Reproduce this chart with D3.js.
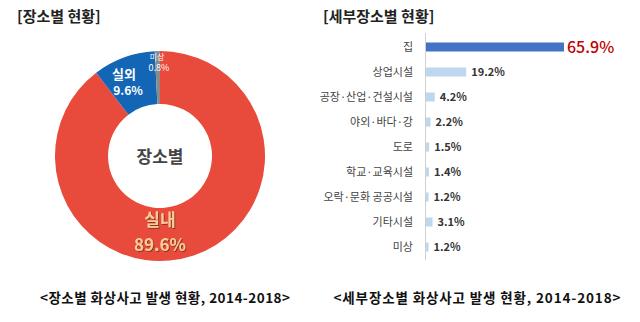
<!DOCTYPE html>
<html><head><meta charset="utf-8">
<script src="https://cdn.jsdelivr.net/npm/d3@7"></script>
<style>
html,body{margin:0;padding:0;background:#fff;}
svg{display:block;font-family:"Noto Sans CJK KR","Noto Sans",sans-serif;}
</style></head>
<body>
<svg id="c" width="640" height="322"></svg>
<script>
// Donut data
const donutLabels = ["실내", "실외", "미상"];
const donutValues = [89.6, 9.6, 0.8];
const donutColors = ["#E84A3B", "#1366B5", "#8A8A8A"];

// Bar data
const barCategories = ["집", "상업시설", "공장·산업·건설시설", "야외·바다·강", "도로", "학교·교육시설", "오락·문화 공공시설", "기타시설", "미상"];
const barValues = [65.9, 19.2, 4.2, 2.2, 1.5, 1.4, 1.2, 3.1, 1.2];

const titles = ["[장소별 현황]", "[세부장소별 현황]"];
const captions = ["<장소별 화상사고 발생 현황, 2014-2018>", "<세부장소별 화상사고 발생 현황, 2014-2018>"];

const svg = d3.select("#c");
const defs = svg.append("defs");
const f = defs.append("filter").attr("id","sh").attr("x","-20%").attr("y","-20%").attr("width","140%").attr("height","140%");
f.append("feDropShadow").attr("dx",1).attr("dy",1).attr("stdDeviation",0.6).attr("flood-color","#7a2a1a").attr("flood-opacity",0.8);

// Titles
svg.append("text").attr("x",17).attr("y",22).attr("font-size",15).attr("font-weight",700).attr("fill","#222").text(titles[0]);
svg.append("text").attr("x",323).attr("y",22).attr("font-size",15).attr("font-weight",700).attr("fill","#222").text(titles[1]);

// Donut
const cx = 160, cy = 156, rOut = 105, rIn = 52;
const pie = d3.pie().sort(null).value(d => d.v);
const arc = d3.arc().innerRadius(rIn).outerRadius(rOut);
const donutData = donutLabels.map((l,i) => ({l, v: donutValues[i], c: donutColors[i]}));
const g = svg.append("g").attr("transform",`translate(${cx},${cy})`);
g.selectAll("path").data(pie(donutData)).join("path")
  .attr("d", arc).attr("fill", d => d.data.c);

g.append("text").attr("x",0).attr("y",7).attr("text-anchor","middle").attr("font-size",17).attr("font-weight",700).attr("fill","#444").text("장소별");

function twoLine(x1, y1, x2, y2, s1, s2, size1, size2, fill, weight, filter) {
  const t = g.append("text").attr("text-anchor","middle").attr("fill",fill).attr("font-weight",weight);
  if (filter) t.attr("filter", filter);
  t.append("tspan").attr("x",x1).attr("y",y1).attr("font-size",size1).text(s1);
  t.append("tspan").attr("x",x2).attr("y",y2).attr("font-size",size2).text(s2);
}
twoLine(0, 70, 0, 95, donutLabels[0], donutValues[0].toFixed(1)+"%", 17, 17, "#FBCB9A", 700, "url(#sh)");
twoLine(-36, -77, -32, -61, donutLabels[1], donutValues[1].toFixed(1)+"%", 13, 12, "#fff", 700, null);
twoLine(-3, -96, -1, -85, donutLabels[2], donutValues[2].toFixed(1)+"%", 8, 9, "#fff", 400, null);

// Bar chart
const x0 = 426;
const x = d3.scaleLinear().domain([0, 65.9]).range([x0, x0 + 138]);
const y = d3.scaleBand().domain(barCategories).range([34.5, 259.5]).paddingInner(0.64).paddingOuter(0.32);

svg.append("line").attr("x1",x0-0.5).attr("x2",x0-0.5).attr("y1",33).attr("y2",260).attr("stroke","#d0d0d0").attr("stroke-width",1);

svg.selectAll("rect.bar").data(barCategories).join("rect").attr("class","bar")
  .attr("x", x(0)).attr("y", d => y(d)).attr("height", y.bandwidth())
  .attr("width", (d,i) => x(barValues[i]) - x(0))
  .attr("fill", (d,i) => i === 0 ? "#4472C4" : "#BDD7EE");

svg.selectAll("text.cat").data(barCategories).join("text").attr("class","cat")
  .attr("x", 413).attr("y", d => y(d) + y.bandwidth()/2 + 4)
  .attr("text-anchor","end").attr("font-size",11).attr("fill","#444").text(d => d);

svg.selectAll("text.val").data(barCategories).join("text").attr("class","val")
  .attr("x", (d,i) => x(barValues[i]) + (i === 0 ? 3 : 5))
  .attr("y", (d,i) => y(d) + y.bandwidth()/2 + (i === 0 ? 6 : 4))
  .attr("font-size", (d,i) => i === 0 ? 16 : 11)
  .attr("font-weight", (d,i) => i === 0 ? 500 : 700)
  .attr("fill", (d,i) => i === 0 ? "#C00000" : "#333")
  .text((d,i) => barValues[i].toFixed(1) + "%");

// Captions
svg.append("text").attr("x",165).attr("y",303).attr("text-anchor","middle").attr("font-size",13.5).attr("font-weight",700).attr("fill","#111").attr("textLength",250).text(captions[0]);
svg.append("text").attr("x",477).attr("y",303).attr("text-anchor","middle").attr("font-size",13.5).attr("font-weight",700).attr("fill","#111").attr("textLength",287).text(captions[1]);
</script>
</body></html>
